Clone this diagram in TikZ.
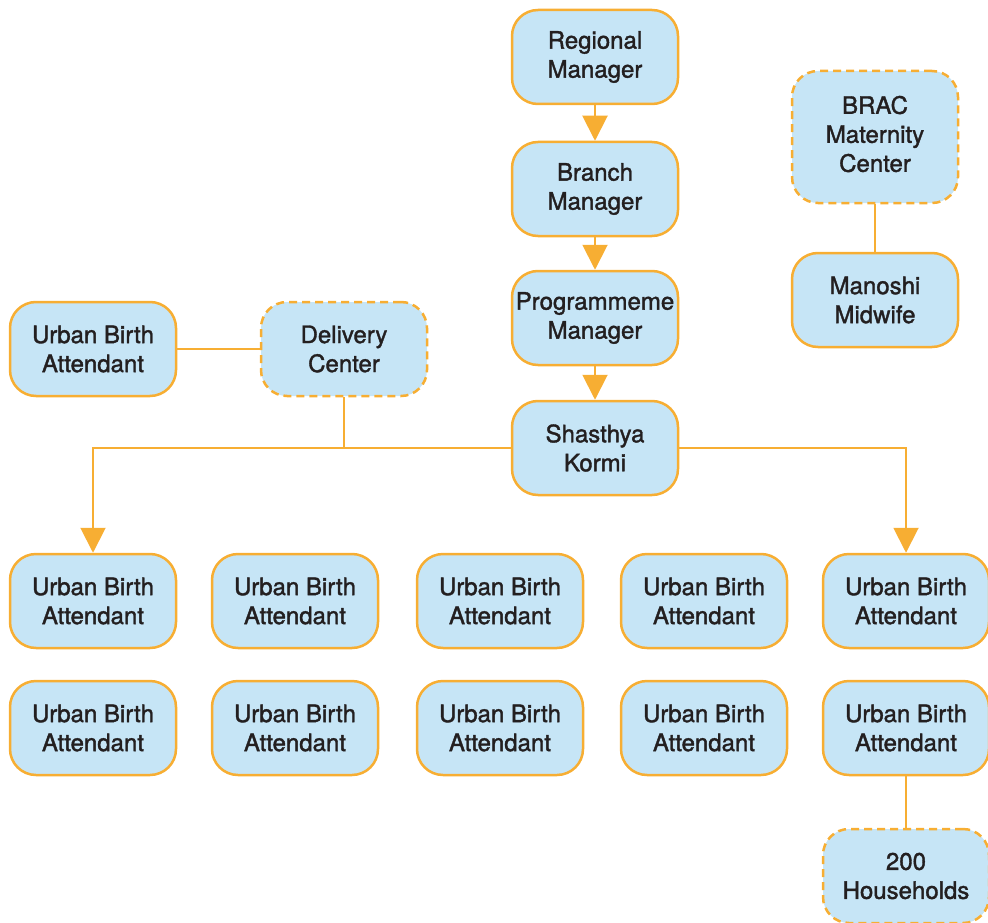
\documentclass[tikz,border=0pt]{standalone}
\usepackage{fontspec}
\setmainfont{TeX Gyre Heros}
\newfontfamily\medfont{TeX Gyre Heros}[FakeBold=1.5]
\usetikzlibrary{arrows.meta}
\definecolor{boxfill}{HTML}{C6E5F6}
\definecolor{boxline}{HTML}{F7AE33}
\definecolor{txt}{HTML}{231F20}
\tikzset{
  box/.style={draw=boxline, fill=boxfill, line width=2.5pt, rounded corners=26pt,
    minimum width=166pt, minimum height=94pt, inner sep=0pt, align=center,
    text=txt, font=\medfont\fontsize{24}{29}\selectfont},
  dbox/.style={box, dash pattern=on 8pt off 5pt},
  conn/.style={draw=boxline, line width=2pt},
  arr/.style={conn, -{Triangle[width=25pt,length=25pt]}}
}
\begin{document}
\begin{tikzpicture}[x=1pt,y=-1pt]
\useasboundingbox (0,0) rectangle (988,923);
\node[box] (rm) at (595,57) {Regional\\Manager};
\node[box] (bm) at (595,189) {Branch\\Manager};
\node[box] (pm) at (595,318) {Programmeme\\Manager};
\node[box] (sk) at (595,448) {Shasthya\\Kormi};
\node[dbox, minimum height=132pt] (brac) at (875,137) {\raisebox{4pt}{\begin{tabular}{@{}c@{}}BRAC\\Maternity\\Center\end{tabular}}};
\node[box] (mm) at (875,300) {Manoshi\\Midwife};
\node[box] (ubl) at (93,349) {Urban Birth\\Attendant};
\node[dbox] (dc) at (344,349) {Delivery\\Center};
\foreach \i/\x in {1/93,2/295,3/500,4/704,5/906}{
  \node[box] (a\i) at (\x,601) {Urban Birth\\Attendant};
  \node[box] (b\i) at (\x,728) {Urban Birth\\Attendant};
}
\node[dbox] (hh) at (906,876) {200\\Households};
\draw[arr] (rm) -- (bm);
\draw[arr] (bm) -- (pm);
\draw[arr] (pm) -- (sk);
\draw[arr] (sk.west) -| (a1.north);
\draw[arr] (sk.east) -| (a5.north);
\draw[conn] (dc.south) -- (dc.south |- sk.west);
\draw[conn] (ubl) -- (dc);
\draw[conn] (brac) -- (mm);
\draw[conn] (b5) -- (hh);
\end{tikzpicture}
\end{document}
